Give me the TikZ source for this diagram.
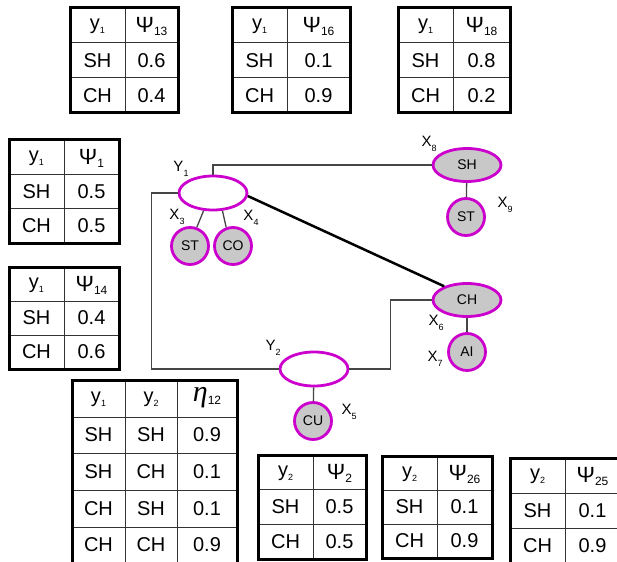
\documentclass[tikz,border=0pt]{standalone}
\usepackage{fontspec}
\setmainfont{Liberation Sans}
\newfontfamily\etafont{Liberation Serif}
\usetikzlibrary{shapes.geometric}
\definecolor{rim}{RGB}{204,0,204}
\definecolor{obsfill}{RGB}{200,200,200}
\definecolor{wiregray}{RGB}{70,70,70}

% small lowered subscripts
\newcommand\ysub[1]{\raisebox{-0.2em}{\fontsize{9}{9}\selectfont #1}}
\newcommand\psub[1]{\raisebox{-0.15em}{\fontsize{12}{12}\selectfont #1}}
\newcommand\lsub[1]{\raisebox{-0.35em}{\fontsize{9}{9}\selectfont #1}}
\newcommand\bigpsi{{\fontsize{22}{24}\selectfont Ψ}}
\newcommand\bigeta{{\fontsize{30}{32}\selectfont\etafont\itshape η}}

% two-column potential table: name, left, right, top, bottom, var, potential, value SH, value CH
\newcommand\ptab[9]{%
  \pgfmathsetmacro\tabmid{#2+55}%
  \pgfmathsetmacro\tabra{#4+(#5-#4)/3}%
  \pgfmathsetmacro\tabrb{#4+2*(#5-#4)/3}%
  \draw[grid] (\tabmid,#4) -- (\tabmid,#5) (#2,\tabra) -- (#3,\tabra) (#2,\tabrb) -- (#3,\tabrb);
  \draw[frame] (#2,#4) rectangle (#3,#5);
  \node[cell] (#1-h1) at ({(#2+\tabmid)/2},{(#4+\tabra)/2+1}) {#6};
  \node[cell] (#1-h2) at ({(#3+\tabmid)/2},{(#4+\tabra)/2+1}) {#7};
  \node[cell] (#1-a1) at ({(#2+\tabmid)/2},{(\tabra+\tabrb)/2}) {SH};
  \node[cell] (#1-a2) at ({(#3+\tabmid)/2},{(\tabra+\tabrb)/2}) {#8};
  \node[cell] (#1-b1) at ({(#2+\tabmid)/2},{(\tabrb+#5)/2}) {CH};
  \node[cell] (#1-b2) at ({(#3+\tabmid)/2},{(\tabrb+#5)/2}) {#9};
}

\begin{document}
\begin{tikzpicture}[x=1pt,y=-1pt,
  frame/.style={line width=3pt},
  grid/.style={line width=1pt,draw=black!80},
  cell/.style={inner sep=0pt,font=\fontsize{20}{24}\selectfont},
  latent/.style={ellipse,draw=rim,line width=2.8pt,fill=white,minimum width=68pt,minimum height=34pt,inner sep=0pt},
  obsoval/.style={ellipse,draw=rim,line width=2.8pt,fill=obsfill,minimum width=68pt,minimum height=33pt,inner sep=0pt,font=\fontsize{14}{16}\selectfont},
  observed/.style={circle,draw=rim,line width=2.8pt,fill=obsfill,minimum size=37pt,inner sep=0pt,font=\fontsize{14}{16}\selectfont},
  lbl/.style={inner sep=0pt,font=\fontsize{15}{17}\selectfont},
  wire/.style={draw=wiregray,line width=1.3pt},
  strong/.style={draw=black,line width=2.5pt}]

\fill[white] (0,0) rectangle (617,561);
\clip (0,0) rectangle (617,561);

% potential tables
\ptab{t13}{70}{178}{8}{113}{y\ysub{1}}{\bigpsi\psub{13}}{0.6}{0.4}
\ptab{t16}{232}{350}{8}{113}{y\ysub{1}}{\bigpsi\psub{16}}{0.1}{0.9}
\ptab{t18}{398}{510}{8}{113}{y\ysub{1}}{\bigpsi\psub{18}}{0.8}{0.2}
\ptab{t1}{9}{119}{140}{243}{y\ysub{1}}{\bigpsi\psub{1}}{0.5}{0.5}
\ptab{t14}{9}{119}{267}{369}{y\ysub{1}}{\bigpsi\psub{14}}{0.4}{0.6}
\ptab{t2}{258}{366}{455}{559}{y\ysub{2}}{\bigpsi\psub{2}}{0.5}{0.5}
\ptab{t26}{382}{492}{456}{558}{y\ysub{2}}{\bigpsi\psub{26}}{0.1}{0.9}
\ptab{t25}{510}{620}{458}{563}{y\ysub{2}}{\bigpsi\psub{25}}{0.1}{0.9}

% pairwise table eta_12
\draw[grid] (125,380) -- (125,565) (177,380) -- (177,565)
  (72,417) -- (237,417) (72,453) -- (237,453) (72,490) -- (237,490) (72,527) -- (237,527);
\draw[frame] (72,380) rectangle (237,565);
\node[cell] (e-h1) at (98.5,399.5) {y\ysub{1}};
\node[cell] (e-h2) at (151,399.5) {y\ysub{2}};
\node[cell] (e-h3) at (207,398) {\bigeta\psub{12}};
\node[cell] (e-11) at (98.5,435) {SH};
\node[cell] (e-12) at (151,435) {SH};
\node[cell] (e-13) at (207,435) {0.9};
\node[cell] (e-21) at (98.5,471.5) {SH};
\node[cell] (e-22) at (151,471.5) {CH};
\node[cell] (e-23) at (207,471.5) {0.1};
\node[cell] (e-31) at (98.5,508.5) {CH};
\node[cell] (e-32) at (151,508.5) {SH};
\node[cell] (e-33) at (207,508.5) {0.1};
\node[cell] (e-41) at (98.5,545) {CH};
\node[cell] (e-42) at (151,545) {CH};
\node[cell] (e-43) at (207,545) {0.9};

% network
\node[latent] (Y1) at (213,193) {};
\node[observed] (X3) at (190,246) {ST};
\node[observed] (X4) at (233,246) {CO};
\node[obsoval] (X8) at (467,165) {SH};
\node[observed] (X9) at (466,217) {ST};
\node[obsoval] (X6) at (467,300) {CH};
\node[observed] (X7) at (467,352) {AI};
\node[latent] (Y2) at (314,369) {};
\node[observed] (X5) at (313,421) {CU};

\draw[wire] (Y1.north) |- (X8.west);
\draw[wire] (Y1.west) -- ++(-26,0) |- (Y2.west);
\draw[wire] (Y2.east) -- ++(41,0) |- (X6.west);
\draw[wire] (Y1.242) -- (X3.70);
\draw[wire] (Y1.298) -- (X4.110);
\draw[wire] (X8) -- (X9);
\draw[wire] (X6) -- (X7);
\draw[wire] (Y2) -- (X5);
\draw[strong] (Y1.-5) -- (X6.149);

% variable labels
\node[lbl] (lY1) at (181,169) {Y\lsub{1}};
\node[lbl] (lX3) at (177,217) {X\lsub{3}};
\node[lbl] (lX4) at (251,218) {X\lsub{4}};
\node[lbl] (lX8) at (429,144) {X\lsub{8}};
\node[lbl] (lX9) at (505,205) {X\lsub{9}};
\node[lbl] (lY2) at (273,348) {Y\lsub{2}};
\node[lbl] (lX5) at (349,412) {X\lsub{5}};
\node[lbl] (lX6) at (436,323) {X\lsub{6}};
\node[lbl] (lX7) at (435,359) {X\lsub{7}};
\end{tikzpicture}
\end{document}
